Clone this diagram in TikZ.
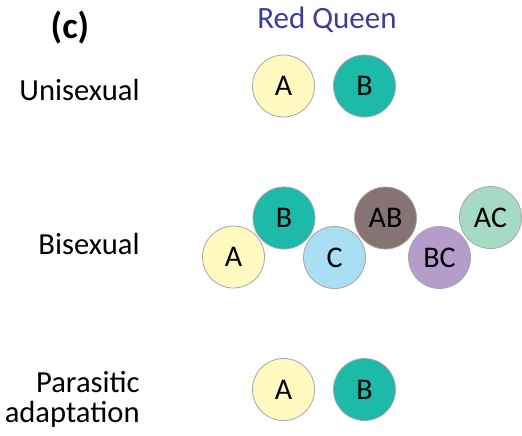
\documentclass[tikz,border=0pt]{standalone}
\usepackage{fontspec}
\setmainfont{Carlito}
\definecolor{alleleA}{HTML}{FFF9C2}
\definecolor{alleleB}{HTML}{1DB9A9}
\definecolor{alleleC}{HTML}{A9DEF3}
\definecolor{alleleAB}{HTML}{857471}
\definecolor{alleleBC}{HTML}{B49DCB}
\definecolor{alleleAC}{HTML}{A7DAC2}
\definecolor{queenblue}{HTML}{3B3D9A}
\begin{document}
\begin{tikzpicture}
[x=0.5pt,y=-0.5pt,
  genotype/.style={shape=circle,draw=black!35,line width=0.4pt,inner sep=0pt,
    minimum size=31pt,font=\fontsize{15}{17}\selectfont},%
  rowlabel/.style={anchor=base east,align=right,inner sep=0pt,
    font=\fontsize{15.3}{15}\selectfont}]
\useasboundingbox (0,0) rectangle (522,435);
%% headings
\node (panel) at (70,38) [anchor=base,font=\fontsize{18.5}{20}\selectfont\bfseries] {(c)};
\node (title) at (327,28) [anchor=base,text=queenblue,font=\fontsize{15.5}{17}\selectfont] {Red Queen};
%% row labels
\node (uni) at (140,100) [rowlabel] {Unisexual};
\node (bi) at (140,254) [rowlabel] {Bisexual};
\node (para) at (140,422) [rowlabel] {Parasitic\\adaptation};
%% unisexual hosts
\foreach \name/\x/\y/\col in {uA/283.5/86/A, uB/364.5/86/B} {
  \node (\name) at (\x,\y) [genotype,fill=allele\col] {\col};
}
%% bisexual hosts
\foreach \name/\x/\y/\col in {bA/233.5/257/A, bB/284/218/B, bC/334.5/257.5/C,
  bAB/385.5/218/AB, bBC/439.5/257.5/BC, bAC/490.5/217.5/AC} {
  \node (\name) at (\x,\y) [genotype,fill=allele\col] {\col};
}
%% parasite-adapted hosts
\foreach \name/\x/\y/\col in {pA/283.5/389.5/A, pB/364.5/389.5/B} {
  \node (\name) at (\x,\y) [genotype,fill=allele\col] {\col};
}
\end{tikzpicture}
\end{document}
